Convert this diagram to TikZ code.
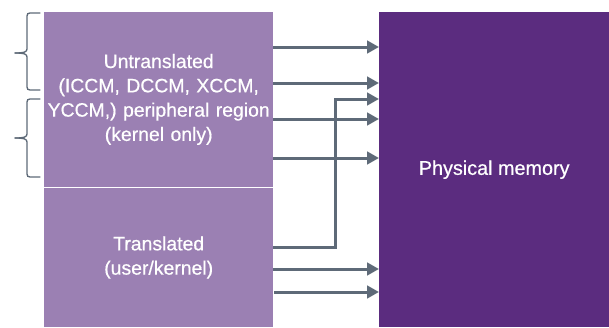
\documentclass[tikz,border=0pt]{standalone}
\usepackage{fontspec}
\setmainfont{Liberation Sans}
\newfontfamily\labelfont{Liberation Sans}[FakeBold=0.6]
\usetikzlibrary{arrows.meta}
\definecolor{lilac}{HTML}{9B80B3}
\definecolor{memcol}{HTML}{5B2C7F}
\definecolor{arrcol}{HTML}{5E6A78}
\begin{document}
\begin{tikzpicture}[x=1pt,y=-1pt,
  region/.style={fill=lilac,draw=none,inner sep=0pt,anchor=north west,text=white,align=center,
    font=\labelfont\fontsize{19.4}{24.3}\selectfont},
  memory/.style={fill=memcol,draw=none,inner sep=0pt,anchor=north west,text=white,align=center,
    font=\labelfont\fontsize{19.8}{24.3}\selectfont},
  arr/.style={draw=arrcol,line width=3pt,-{Triangle[length=12pt,width=12.5pt]}},
  bracestyle/.style={draw=arrcol,line width=1.3pt,line cap=round}]
\useasboundingbox (0,0) rectangle (609,327);
\node[region,minimum width=229pt,minimum height=174.5pt,text width=229pt] (up) at (44,12)
  {Untranslated\\(ICCM, DCCM, XCCM,\\YCCM,) peripheral region\\(kernel only)};
\node[region,minimum width=229pt,minimum height=139.5pt,text width=229pt] (low) at (44,187.5)
  {Translated\\(user/kernel)};
\node[memory,minimum width=230pt,minimum height=315pt] (mem) at (379,12) {Physical memory};
% bent arrow
\draw[arr] (low.east |- 0,247) -- (335,247) |- (mem.west |- 0,99);
% straight arrows
\draw[arr] (up.east |- 0,47) -- (mem.west |- 0,47);
\draw[arr] (up.east |- 0,83) -- (mem.west |- 0,83);
\draw[arr] (up.east |- 0,119) -- (mem.west |- 0,119);
\draw[arr] (up.east |- 0,158) -- (mem.west |- 0,158);
\draw[arr] (low.east |- 0,269) -- (mem.west |- 0,269);
\draw[arr] ([xshift=1pt]low.east |- 0,292) -- (mem.west |- 0,292);
% braces
\draw[bracestyle] (40,13) -- (30,13) .. controls (28,13) and (27,14) .. (27,16) -- (27,49)
  .. controls (27,52) and (24,53) .. (15,53);
\draw[bracestyle] (40,90) -- (30,90) .. controls (28,90) and (27,89) .. (27,87) -- (27,57)
  .. controls (27,54) and (24,53) .. (15,53);
\draw[bracestyle] (40,99) -- (30,99) .. controls (28,99) and (27,100) .. (27,102) -- (27,134)
  .. controls (27,137) and (24,138) .. (15,138);
\draw[bracestyle] (40,177) -- (30,177) .. controls (28,177) and (27,176) .. (27,174) -- (27,142)
  .. controls (27,139) and (24,138) .. (15,138);
\end{tikzpicture}
\end{document}
